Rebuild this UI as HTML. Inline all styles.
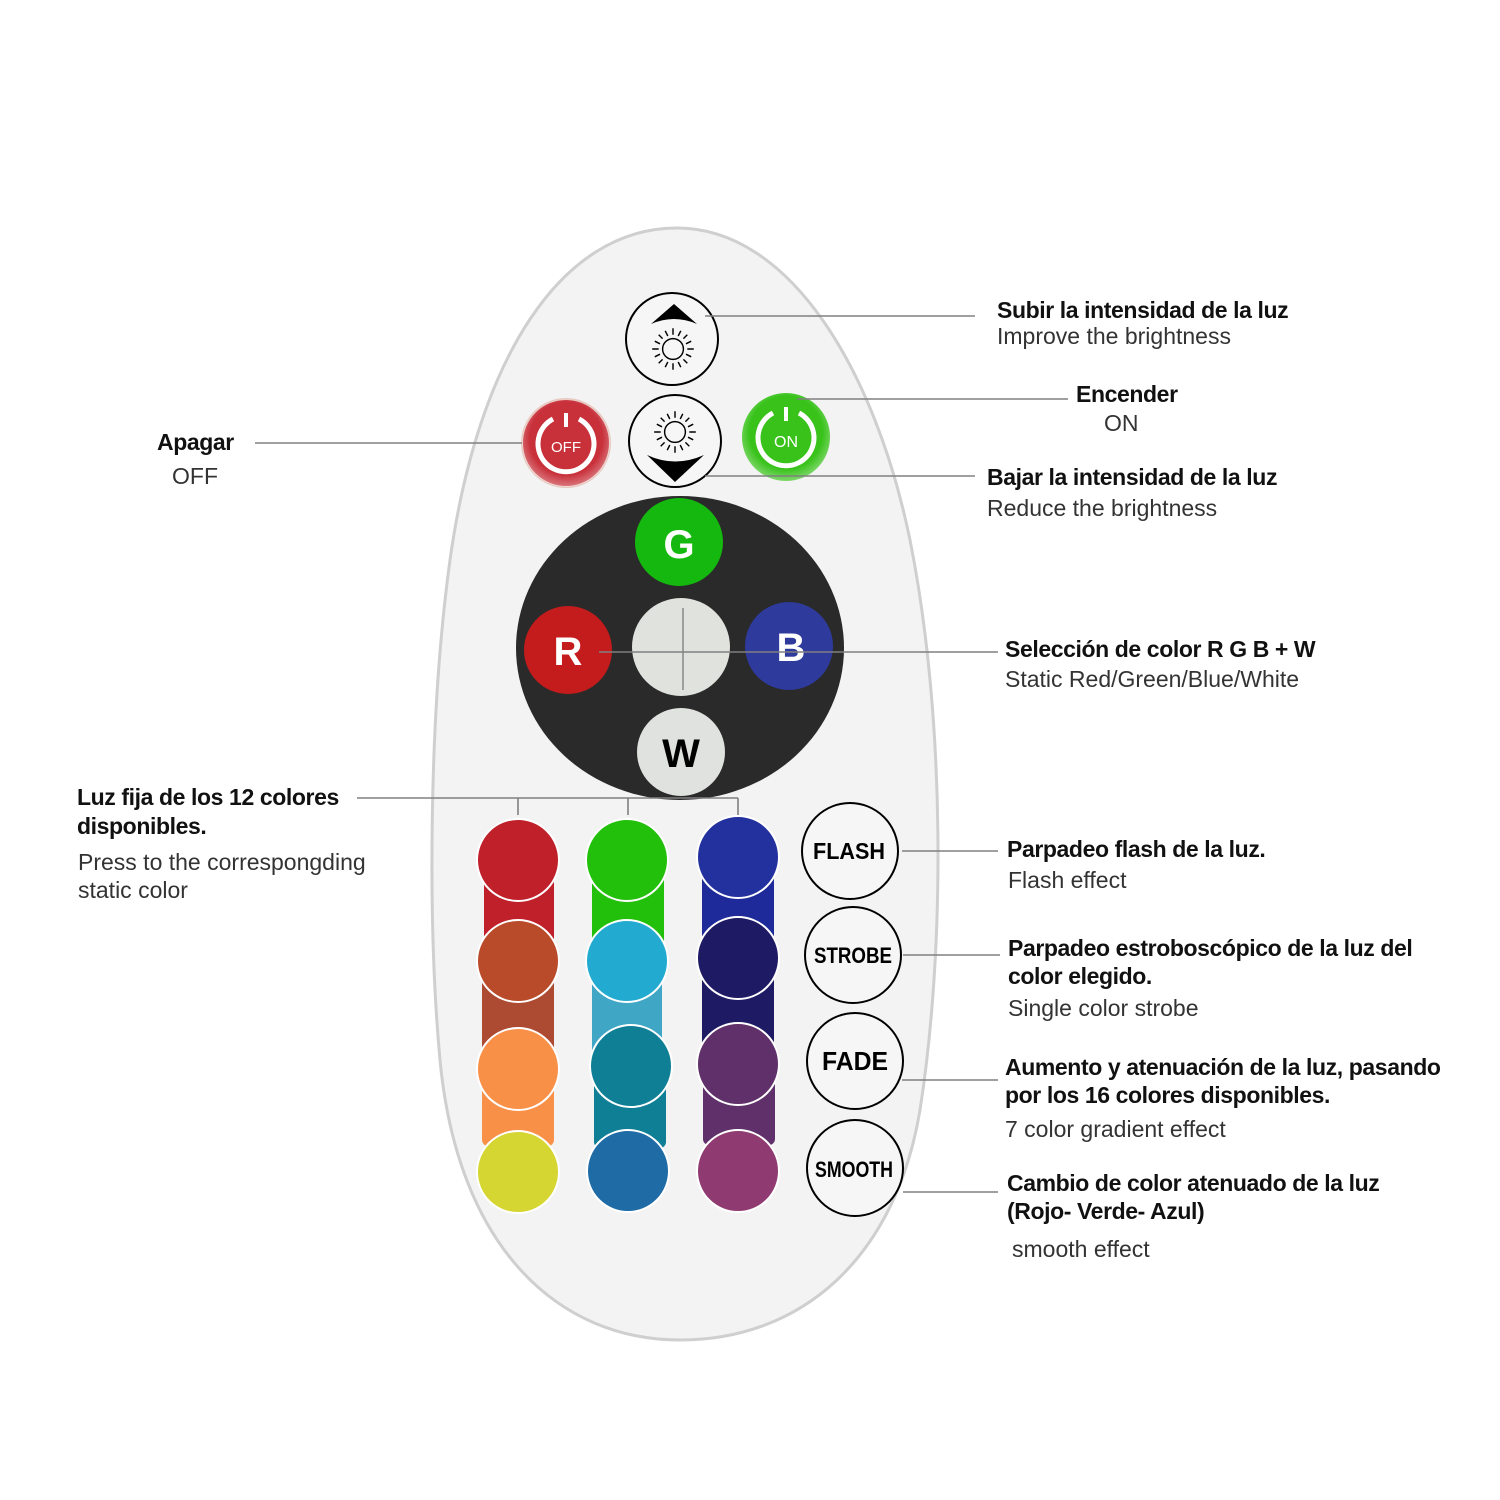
<!DOCTYPE html>
<html><head><meta charset="utf-8"><style>
html,body{margin:0;padding:0;background:#fff;}
svg{display:block}
.t{font-family:"Liberation Sans",sans-serif;font-weight:bold;font-size:23px;fill:#111;letter-spacing:-0.4px}
.s{font-family:"Liberation Sans",sans-serif;font-size:23px;fill:#333;letter-spacing:0px}
.b{font-family:"Liberation Sans",sans-serif;font-weight:bold;fill:#000}
</style></head><body>
<svg width="1500" height="1500" viewBox="0 0 1500 1500" xmlns="http://www.w3.org/2000/svg">
<defs>
<radialGradient id="sh" cx="50%" cy="45%" r="55%"><stop offset="75%" stop-color="#fff" stop-opacity="0"/><stop offset="100%" stop-color="#fff" stop-opacity="0.35"/></radialGradient>
<g id="sun" stroke="#000" stroke-width="1.1" fill="none">
<circle r="8"/>
<path d="M0,-11V-16M0,11V16M-11,0H-16M11,0H16M8,-8L11,-11M-8,-8L-11,-11M8,8L11,11M-8,8L-11,11M4,-10L6,-14M-4,-10L-6,-14M4,10L6,14M-4,10L-6,14M10,4L14,6M-10,4L-14,6M10,-4L14,-6M-10,-4L-14,-6"/>
</g>
</defs>
<path d="M677,228 C560,228 478,360 450,560 C428,720 428,930 440,1060 C458,1250 560,1340 680,1340 C800,1340 895,1260 920,1110 C945,950 946,720 910,540 C875,370 790,228 677,228 Z" fill="#f3f3f3" stroke="#cfcfcf" stroke-width="3"/>

<circle cx="672" cy="339" r="46" fill="#f6f6f6" stroke="#000" stroke-width="2"/>
<path d="M651,324 L674,304 L697,324 Q674,314 651,324Z" fill="#000"/>
<g transform="translate(673,349) scale(1.3)"><use href="#sun"/></g>
<circle cx="675" cy="441" r="46" fill="#f6f6f6" stroke="#000" stroke-width="2"/>
<path d="M647,455 Q675,468 704,455 L675,482 Z" fill="#000"/>
<g transform="translate(675,432) scale(1.3)"><use href="#sun"/></g>

<circle cx="566" cy="443" r="44" fill="#c8303a" stroke="#e8c8c0" stroke-width="2"/>
<circle cx="566" cy="443" r="44" fill="url(#sh)"/>
<path d="M553,419 A28,28 0 1 0 579,419" fill="none" stroke="#fff" stroke-width="5"/>
<rect x="564" y="413" width="4" height="14" fill="#fff"/>
<text x="566" y="452" text-anchor="middle" font-family="Liberation Sans,sans-serif" font-size="15" fill="#fff">OFF</text>
<circle cx="786" cy="437" r="44" fill="#38c21a"/>
<circle cx="786" cy="437" r="44" fill="url(#sh)"/>
<path d="M773,413 A28,28 0 1 0 799,413" fill="none" stroke="#fff" stroke-width="5"/>
<rect x="784" y="407" width="4" height="14" fill="#fff"/>
<text x="786" y="447" text-anchor="middle" font-family="Liberation Sans,sans-serif" font-size="16" fill="#fff">ON</text>

<ellipse cx="680" cy="648" rx="164" ry="152" fill="#2a2a2a"/>
<circle cx="679" cy="542" r="44" fill="#14b80e"/>
<circle cx="568" cy="650" r="44" fill="#c41c1c"/>
<circle cx="789" cy="646" r="44" fill="#2e3a9c"/>
<circle cx="681" cy="647" r="49" fill="#e0e2de"/>
<circle cx="681" cy="752" r="44" fill="#dfe2de"/>
<text x="679" y="558" text-anchor="middle" class="b" font-size="40" style="fill:#fff">G</text>
<text x="568" y="665" text-anchor="middle" class="b" font-size="40" style="fill:#fff">R</text>
<text x="791" y="661" text-anchor="middle" class="b" font-size="40" style="fill:#fff">B</text>
<text x="681" y="767" text-anchor="middle" class="b" font-size="40">W</text>
<line x1="683" y1="608" x2="683" y2="690" stroke="#888" stroke-width="1.5"/>

<rect x="484" y="860" width="70" height="140" rx="6" fill="#c0202a"/>
<rect x="482" y="961" width="72" height="107" fill="#ad4a32"/>
<rect x="482" y="1068" width="72" height="78" rx="6" fill="#f99048"/>
<rect x="592" y="860" width="72" height="101" fill="#22c00a"/>
<rect x="592" y="961" width="70" height="107" fill="#40a6c6"/>
<rect x="594" y="1068" width="72" height="80" rx="6" fill="#0f7f96"/>
<rect x="702" y="860" width="72" height="101" fill="#1e2a9a"/>
<rect x="702" y="958" width="72" height="110" fill="#1e1a64"/>
<rect x="703" y="1065" width="72" height="80" rx="6" fill="#60306a"/>
<g stroke="#fff" stroke-width="2">
<circle cx="518" cy="860" r="41" fill="#c0202a"/>
<circle cx="518" cy="961" r="41" fill="#b94a2a"/>
<circle cx="518" cy="1069" r="41" fill="#f99048"/>
<circle cx="518" cy="1172" r="41" fill="#d6d632"/>
<circle cx="627" cy="860" r="41" fill="#22c00a"/>
<circle cx="627" cy="961" r="41" fill="#22aad0"/>
<circle cx="631" cy="1066" r="41" fill="#0f7f96"/>
<circle cx="628" cy="1171" r="41" fill="#1e6ba6"/>
<circle cx="738" cy="857" r="41" fill="#23319f"/>
<circle cx="738" cy="958" r="41" fill="#1e1a64"/>
<circle cx="738" cy="1064" r="41" fill="#60306a"/>
<circle cx="738" cy="1171" r="41" fill="#8f3b72"/>
</g>

<g fill="#f6f6f6" stroke="#000" stroke-width="2">
<circle cx="850" cy="851" r="48"/>
<circle cx="853" cy="955" r="48"/>
<circle cx="855" cy="1061" r="48"/>
<circle cx="855" cy="1168" r="48"/>
</g>
<text x="849" y="859" text-anchor="middle" class="b" font-size="23" textLength="72" lengthAdjust="spacingAndGlyphs">FLASH</text>
<text x="853" y="963" text-anchor="middle" class="b" font-size="22" textLength="78" lengthAdjust="spacingAndGlyphs">STROBE</text>
<text x="855" y="1070" text-anchor="middle" class="b" font-size="26" textLength="66" lengthAdjust="spacingAndGlyphs">FADE</text>
<text x="854" y="1177" text-anchor="middle" class="b" font-size="22" textLength="78" lengthAdjust="spacingAndGlyphs">SMOOTH</text>

<g stroke="#808080" stroke-width="1.6" fill="none">
<line x1="705" y1="316" x2="975" y2="316"/>
<line x1="797" y1="399" x2="1068" y2="399"/>
<line x1="705" y1="476" x2="975" y2="476"/>
<line x1="255" y1="443" x2="522" y2="443"/>
<line x1="599" y1="652" x2="998" y2="652"/>
<path d="M357,798 H738 M518,798 V815 M628,798 V815 M738,798 V815"/>
<line x1="902" y1="851" x2="998" y2="851"/>
<line x1="903" y1="955" x2="1000" y2="955"/>
<line x1="902" y1="1080" x2="998" y2="1080"/>
<line x1="903" y1="1192" x2="998" y2="1192"/>
</g>

<text x="997" y="318" class="t">Subir la intensidad de la luz</text>
<text x="997" y="344" class="s">Improve the brightness</text>
<text x="1076" y="402" class="t">Encender</text>
<text x="1104" y="431" class="s">ON</text>
<text x="987" y="485" class="t">Bajar la intensidad de la luz</text>
<text x="987" y="516" class="s">Reduce  the brightness</text>
<text x="157" y="450" class="t">Apagar</text>
<text x="172" y="484" class="s">OFF</text>
<text x="1005" y="657" class="t">Selección de color R G B + W</text>
<text x="1005" y="687" class="s">Static Red/Green/Blue/White</text>
<text x="77" y="805" class="t">Luz fija de los 12 colores</text>
<text x="77" y="834" class="t">disponibles.</text>
<text x="78" y="870" class="s">Press to the correspongding</text>
<text x="78" y="898" class="s">static color</text>
<text x="1007" y="857" class="t">Parpadeo flash de la luz.</text>
<text x="1008" y="888" class="s">Flash effect</text>
<text x="1008" y="956" class="t">Parpadeo estroboscópico de la luz del</text>
<text x="1008" y="984" class="t">color elegido.</text>
<text x="1008" y="1016" class="s">Single color strobe</text>
<text x="1005" y="1075" class="t">Aumento y atenuación de la luz, pasando</text>
<text x="1005" y="1103" class="t">por los 16 colores disponibles.</text>
<text x="1005" y="1137" class="s">7 color gradient effect</text>
<text x="1007" y="1191" class="t">Cambio de color atenuado de la luz</text>
<text x="1007" y="1219" class="t">(Rojo- Verde- Azul)</text>
<text x="1012" y="1257" class="s">smooth effect</text>
</svg>
</body></html>
